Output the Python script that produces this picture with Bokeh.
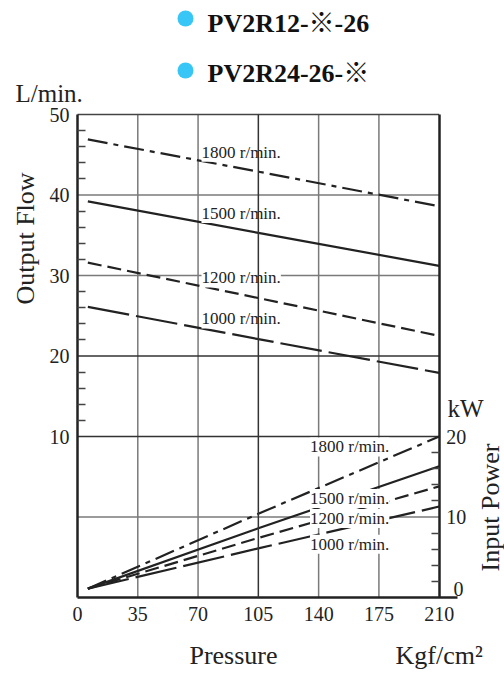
from math import pi
from bokeh.plotting import figure
from bokeh.models import Range1d, LinearAxis, FixedTicker, Label, ColumnDataSource
from bokeh.embed import file_html
from bokeh.resources import INLINE

# ---------------- data ----------------
pressure = [6, 105, 210]                  # Kgf/cm2
flow_1800 = [46.9, 42.9, 38.6]            # L/min
flow_1500 = [39.2, 35.3, 31.2]
flow_1200 = [31.6, 27.2, 22.5]
flow_1000 = [26.1, 22.1, 17.9]
power_1800 = [1.1, 10.4, 20.0]            # kW
power_1500 = [1.1, 8.6, 16.3]
power_1200 = [1.1, 7.4, 13.8]
power_1000 = [1.1, 6.1, 11.3]
speed_labels = ["1800 r/min.", "1500 r/min.", "1200 r/min.", "1000 r/min."]
x_ticks = [0, 35, 70, 105, 140, 175, 210]
flow_ticks = [10, 20, 30, 40, 50]
power_ticks = [0, 10, 20]
titles = ["PV2R12-\u203b-26", "PV2R24-26-\u203b"]

SERIF = "'Liberation Serif', 'Noto Sans CJK JP', serif"
INK = "#222222"
GRID = "#7a7a7a"
DARK = "#333333"

# ---------------- geometry (page pixels -> data) ----------------
W, H = 504, 675
PX_L, PX_R, PX_T, PX_B = 77.0, 438.7, 114.0, 597.0      # plot box in page pixels
X0, X1, Y0, Y1 = 0.0, 210.0, -10.0, 50.0                 # plot box in data units
SX = (PX_R - PX_L) / (X1 - X0)
SY = (PX_B - PX_T) / (Y1 - Y0)
KW_SHIFT = 10.0                                          # kW = flow-axis value + 10


def dx(px):
    return X0 + (px - PX_L) / SX


def dy(py):
    return Y1 - (py - PX_T) / SY


p = figure(width=W, height=H, x_range=Range1d(dx(0), dx(W)), y_range=Range1d(dy(H), dy(0)),
           output_backend="svg", toolbar_location=None, title=None,
           x_axis_location=None, y_axis_location=None, min_border=0)
p.extra_y_ranges = {"kw": Range1d(dy(H) + KW_SHIFT, dy(0) + KW_SHIFT)}
p.outline_line_color = None
p.grid.visible = False

# ---------------- grid lines (from the tick values) ----------------
gx_light = [t for t in x_ticks if t not in (X0, X1, 105)]
gy_light = [t for t in [0] + flow_ticks if t in (0, 30, 40)]
gy_dark = [t for t in flow_ticks if t in (10, 20)]
p.segment(x0=gx_light, y0=[Y0] * len(gx_light), x1=gx_light, y1=[Y1] * len(gx_light),
          line_color=GRID, line_width=1.5)
p.segment(x0=[X0] * len(gy_light), y0=gy_light, x1=[X1] * len(gy_light), y1=gy_light,
          line_color=GRID, line_width=1.5)
p.segment(x0=[X0] * len(gy_dark), y0=gy_dark, x1=[X1] * len(gy_dark), y1=gy_dark,
          line_color=DARK, line_width=1.5)
p.segment(x0=[X0], y0=[Y1], x1=[X1], y1=[Y1], line_color="#444444", line_width=1.5)


def style_axis(ax, minor_in=8):
    ax.axis_line_width = 2.5
    ax.axis_line_color = INK
    ax.major_tick_out = 0
    ax.major_tick_in = 0
    ax.minor_tick_out = 0
    ax.minor_tick_in = minor_in
    ax.minor_tick_line_width = 1.5
    ax.minor_tick_line_color = "#444444"
    ax.major_label_text_font = SERIF
    ax.major_label_text_font_size = "20px"
    ax.major_label_text_color = INK


xa = LinearAxis(ticker=FixedTicker(ticks=x_ticks), fixed_location=Y0, bounds=(X0, dx(457)))
style_axis(xa, minor_in=0)
xa.major_label_standoff = 9
p.add_layout(xa, "below")

ya = LinearAxis(ticker=FixedTicker(ticks=flow_ticks,
                                   minor_ticks=[v for v in range(12, 50, 2) if v % 10]),
                fixed_location=X0, bounds=(Y0, Y1))
style_axis(ya)
ya.major_label_standoff = 8
p.add_layout(ya, "left")

ra = LinearAxis(y_range_name="kw",
                ticker=FixedTicker(ticks=[t for t in power_ticks if t > 0],
                                   minor_ticks=[v for v in range(2, 20, 2) if v % 10]),
                fixed_location=X1, bounds=(Y0 + KW_SHIFT, Y1 + KW_SHIFT))
style_axis(ra)
ra.major_label_standoff = 7
p.add_layout(ra, "right")

# ---------------- curves ----------------
dashes = ["20 6 5 6", "solid", "14 6", "42 7"]
flows = [flow_1800, flow_1500, flow_1200, flow_1000]
powers = [power_1800, power_1500, power_1200, power_1000]
for fl, pw, d in zip(flows, powers, dashes):
    p.line(pressure, fl, line_color=INK, line_width=2.2, line_dash=d)
    p.line(pressure, pw, line_color=INK, line_width=2.2, line_dash=d, y_range_name="kw")

# curve labels
flow_label_y = [45.3, 37.7, 29.7, 24.6]
for txt, yy in zip(speed_labels, flow_label_y):
    p.add_layout(Label(x=72, y=yy, text=txt, text_font=SERIF, text_font_size="17px",
                       text_baseline="middle", text_color=INK,
                       background_fill_color="white"))
power_label_y = [18.7, 12.3, 9.8, 6.6]
for txt, yy in zip(speed_labels, power_label_y):
    p.add_layout(Label(x=135, y=yy, y_range_name="kw", text=txt, text_font=SERIF,
                       text_font_size="17px", text_baseline="middle", text_color=INK,
                       background_fill_color="white"))

# dark 105 line drawn over the flow labels
p.segment(x0=[105], y0=[Y0], x1=[105], y1=[Y1], line_color=DARK, line_width=1.5,
          level="overlay")


# ---------------- free texts ----------------
def lab(px, py, text, size, align="left", angle=0.0, color=INK, style="normal"):
    p.add_layout(Label(x=dx(px), y=dy(py), text=text, text_font=SERIF,
                       text_font_size=size, text_font_style=style,
                       text_align=align, text_baseline="middle", angle=angle,
                       text_color=color))


# title with cyan bullets
tsrc = ColumnDataSource(dict(x=[dx(185), dx(185)], y=[dy(18), dy(70)]))
p.scatter("x", "y", source=tsrc, size=16, fill_color="#37c6f5", line_color=None)
lab(207, 22.5, titles[0], "26px", style="bold", color="#111111")
lab(207, 72.5, titles[1], "26px", style="bold", color="#111111")

lab(15, 92.5, "L/min.", "25px")
lab(25, 238, "Output Flow", "26px", align="center", angle=pi / 2)
lab(447, 407.5, "kW", "25px")
lab(490, 507, "Input Power", "26px", align="center", angle=pi / 2)
lab(233, 654.5, "Pressure", "26px", align="center")
lab(395, 654.5, "Kgf/cm\u00b2", "26px")
lab(458, 588, str(power_ticks[0]), "20px", align="center")

open("out.html", "w").write(file_html(p, INLINE))
